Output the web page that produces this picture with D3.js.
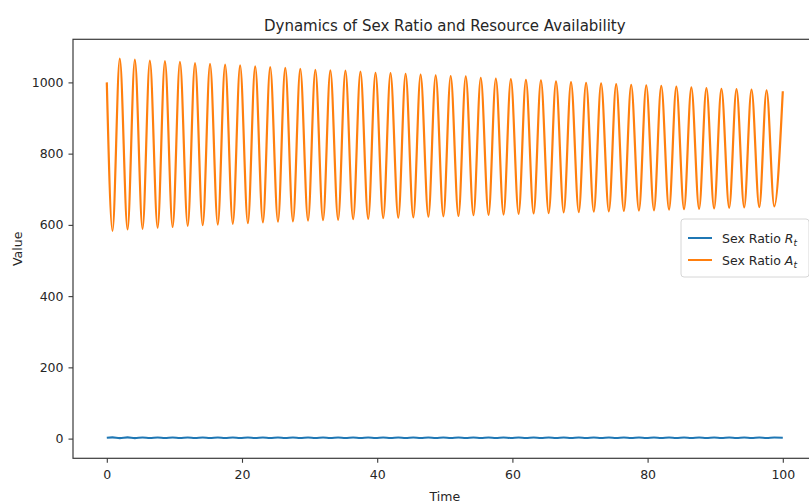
<!DOCTYPE html>
<html>
<head>
<meta charset="utf-8">
<script src="https://cdn.jsdelivr.net/npm/d3@7/dist/d3.min.js"></script>
<style>
  html, body { margin: 0; padding: 0; background: #fff; }
  svg { display: block; font-family: "DejaVu Sans", sans-serif; }
</style>
</head>
<body>
<svg id="chart" width="809" height="503"></svg>
<script>
// ---- data ----------------------------------------------------------------
// A_t: resource availability, given by its start, turning points and end
const aStart = [0, 1000];
const aEnd = [100, 975];
const aPeakTime = [1.92, 4.15, 6.37, 8.60, 10.82, 13.05, 15.27, 17.50, 19.72, 21.95,
  24.17, 26.40, 28.62, 30.85, 33.07, 35.30, 37.52, 39.75, 41.97, 44.20,
  46.42, 48.65, 50.87, 53.10, 55.32, 57.55, 59.77, 62.00, 64.22, 66.45,
  68.67, 70.90, 73.12, 75.35, 77.57, 79.80, 82.02, 84.25, 86.47, 88.70,
  90.92, 93.15, 95.37, 97.60];
const aPeakValue = [1067, 1064, 1061, 1060, 1058, 1054, 1052, 1050, 1048, 1045,
  1043, 1041, 1038, 1035, 1034, 1033, 1030, 1027, 1026, 1024,
  1022, 1020, 1018, 1017, 1013, 1011, 1009, 1007, 1006, 1003,
  1001, 999, 997, 995, 993, 992, 990, 988, 986, 984,
  982, 981, 980, 978];
const aTroughTime = [0.84, 3.07, 5.29, 7.52, 9.74, 11.97, 14.19, 16.42, 18.64, 20.87,
  23.09, 25.32, 27.54, 29.77, 31.99, 34.22, 36.44, 38.67, 40.89, 43.12,
  45.34, 47.57, 49.79, 52.02, 54.24, 56.47, 58.69, 60.92, 63.14, 65.37,
  67.59, 69.82, 72.04, 74.27, 76.49, 78.72, 80.94, 83.17, 85.39, 87.62,
  89.84, 92.07, 94.29, 96.52, 98.74];
const aTroughValue = [583, 587, 589, 592, 594, 597, 599, 601, 603, 605,
  607, 609, 610, 612, 613, 614, 616, 617, 619, 620,
  621, 623, 624, 625, 627, 628, 629, 631, 632, 633,
  635, 636, 637, 638, 639, 640, 641, 643, 644, 645,
  646, 648, 649, 650, 652];

// R_t: sex ratio, a small ripple just above zero (same turning times)
const rStart = [0, 2.4];
const rEnd = [100, 2.2];
const rAtPeakTime = [1.4, 1.4, 1.5, 1.5, 1.5, 1.5, 1.6, 1.6, 1.6, 1.6,
  1.6, 1.6, 1.7, 1.7, 1.7, 1.7, 1.7, 1.7, 1.7, 1.7,
  1.7, 1.8, 1.8, 1.8, 1.8, 1.8, 1.8, 1.8, 1.8, 1.8,
  1.8, 1.9, 1.9, 1.9, 1.9, 1.9, 1.9, 1.9, 1.9, 1.9,
  1.9, 1.9, 1.9, 1.9];
const rAtTroughTime = [3.4, 3.4, 3.3, 3.3, 3.3, 3.3, 3.2, 3.2, 3.2, 3.2,
  3.2, 3.2, 3.1, 3.1, 3.1, 3.1, 3.1, 3.1, 3.1, 3.1,
  3.1, 3.0, 3.0, 3.0, 3.0, 3.0, 3.0, 3.0, 3.0, 3.0,
  3.0, 2.9, 2.9, 2.9, 2.9, 2.9, 2.9, 2.9, 2.9, 2.9,
  2.9, 2.9, 2.9, 2.9, 2.9];

const xTicks = [0, 20, 40, 60, 80, 100];
const yTicks = [0, 200, 400, 600, 800, 1000];
const seriesNames = ["Sex Ratio R", "Sex Ratio A"];
const seriesColors = ["#1f77b4", "#ff7f0e"];

// merge start, turning points and end into one time-ordered series
function buildSeries(start, peakT, peakV, troughT, troughV, end) {
  const pts = [{ t: start[0], v: start[1] }];
  peakT.forEach((t, i) => pts.push({ t, v: peakV[i] }));
  troughT.forEach((t, i) => pts.push({ t, v: troughV[i] }));
  pts.push({ t: end[0], v: end[1] });
  return pts.sort((a, b) => a.t - b.t);
}
const aSeries = buildSeries(aStart, aPeakTime, aPeakValue, aTroughTime, aTroughValue, aEnd);
const rSeries = buildSeries(rStart, aPeakTime, rAtPeakTime, aTroughTime, rAtTroughTime, rEnd);

// ---- layout ----------------------------------------------------------------
const svg = d3.select("#chart");
const plot = { left: 73, top: 39.3, right: 816.6, bottom: 458.3 };

const x = d3.scaleLinear().domain([-5, 105]).range([plot.left, plot.right]);
const y = d3.scaleLinear().domain([-55.3, 1121]).range([plot.bottom, plot.top]);

// lines
const line = d3.line().x(d => x(d.t)).y(d => y(d.v)).curve(d3.curveMonotoneX);

svg.append("path").datum(rSeries)
  .attr("d", line).attr("fill", "none")
  .attr("stroke", seriesColors[0]).attr("stroke-width", 2.1);

svg.append("path").datum(aSeries)
  .attr("d", line).attr("fill", "none")
  .attr("stroke", seriesColors[1]).attr("stroke-width", 2.2)
  .attr("stroke-linejoin", "round");

// spines
const spineColor = "#3a3a3a";
svg.append("rect")
  .attr("x", plot.left).attr("y", plot.top)
  .attr("width", plot.right - plot.left).attr("height", plot.bottom - plot.top)
  .attr("fill", "none").attr("stroke", spineColor).attr("stroke-width", 1.2);

// axes
const xAxis = d3.axisBottom(x).tickValues(xTicks).tickSize(4.5).tickPadding(7.5)
  .tickFormat(d3.format("d"));
const yAxis = d3.axisLeft(y).tickValues(yTicks).tickSize(4.5).tickPadding(5)
  .tickFormat(d3.format("d"));

const gx = svg.append("g").attr("transform", `translate(0,${plot.bottom})`).call(xAxis);
const gy = svg.append("g").attr("transform", `translate(${plot.left},0)`).call(yAxis);
[gx, gy].forEach(g => {
  g.select(".domain").remove();
  g.selectAll(".tick line").attr("stroke", spineColor).attr("stroke-width", 1.1);
  g.selectAll(".tick text")
    .attr("fill", "#262626")
    .style("font-family", "'DejaVu Sans', sans-serif")
    .style("font-size", "12.5px");
});

// title and axis labels
svg.append("text")
  .attr("x", (plot.left + plot.right) / 2).attr("y", 31)
  .attr("text-anchor", "middle").attr("fill", "#262626")
  .style("font-size", "15px")
  .text("Dynamics of Sex Ratio and Resource Availability");

svg.append("text")
  .attr("x", (plot.left + plot.right) / 2).attr("y", 501)
  .attr("text-anchor", "middle").attr("fill", "#262626")
  .style("font-size", "12.5px")
  .text("Time");

svg.append("text")
  .attr("transform", `translate(22,${(plot.top + plot.bottom) / 2}) rotate(-90)`)
  .attr("text-anchor", "middle").attr("fill", "#262626")
  .style("font-size", "12.5px")
  .text("Value");

// legend
const legend = svg.append("g").attr("transform", "translate(681,219)");
legend.append("rect")
  .attr("x", 0).attr("y", 0).attr("width", 128).attr("height", 58).attr("rx", 3)
  .attr("fill", "#fff").attr("fill-opacity", 0.85)
  .attr("stroke", "#d6d6d6").attr("stroke-width", 1);

seriesNames.forEach((name, i) => {
  const cy = 19 + i * 22;
  legend.append("line")
    .attr("x1", 7).attr("x2", 31).attr("y1", cy).attr("y2", cy)
    .attr("stroke", seriesColors[i]).attr("stroke-width", 2);
  const t = legend.append("text")
    .attr("x", 41).attr("y", cy + 4.5)
    .attr("fill", "#262626").style("font-size", "12.5px");
  t.append("tspan").text(name.replace(/ R$| A$/, " "));
  t.append("tspan").attr("font-style", "italic").text(i === 0 ? "R" : "A");
  t.append("tspan").attr("font-style", "italic").attr("font-size", "9px")
    .attr("dy", 3).text("t");
});
</script>
</body>
</html>
